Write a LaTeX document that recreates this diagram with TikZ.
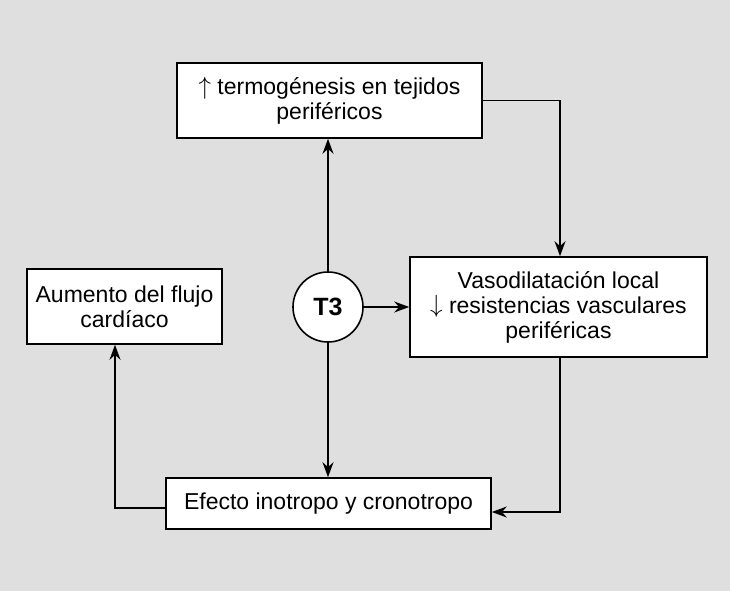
\documentclass[tikz,border=0pt]{standalone}
\usepackage{fontspec}
\setmainfont{Liberation Sans}
\usetikzlibrary{arrows.meta}
\definecolor{bggray}{RGB}{223,223,223}
\newcommand{\upar}{\raisebox{0.5pt}{$\uparrow$}}
\newcommand{\dnar}{\raisebox{0.5pt}{$\downarrow$}}
\begin{document}
\begin{tikzpicture}[x=1pt,y=-1pt,
  box/.style={draw=black, line width=1.6pt, fill=white, inner sep=0pt, align=center,
    font=\fontsize{23}{25}\selectfont},
  conn/.style={line width=1.4pt, -{Stealth[length=15pt,width=11pt]}}]
\fill[bggray] (0,0) rectangle (730,591);
\useasboundingbox (0,0) rectangle (730,591);
\node[box, minimum width=305pt, minimum height=75pt] (top) at (329.5,100.5)
  {\upar\ termogénesis en tejidos\\periféricos};
\node[box, minimum width=297pt, minimum height=100pt] (vaso) at (558.5,307)
  {Vasodilatación local\\\dnar\ resistencias vasculares\\periféricas};
\node[box, minimum width=195pt, minimum height=75pt] (flujo) at (124.5,306.5)
  {Aumento del flujo\\cardíaco};
\node[box, minimum width=325pt, minimum height=51pt] (efecto) at (328.5,503.5)
  {Efecto inotropo y cronotropo};
\node[circle, draw=black, line width=1.6pt, fill=white, minimum size=70pt, inner sep=0pt,
  font=\fontsize{25}{26}\selectfont\bfseries] (t3) at (328,307) {T3};
\coordinate (c1) at (560,100.5);
\coordinate (c2) at (560,512);
\coordinate (c3) at (115,508);
\draw[conn] (t3.north) -- (t3.north |- top.south);
\draw[conn] (t3.south) -- (t3.south |- efecto.north);
\draw[conn] (t3.east) -- (vaso.west);
\draw[conn] (top.east) -- (c1) -- (c1 |- vaso.north);
\draw[conn] (c1 |- vaso.south) -- (c2) -- (c2 -| efecto.east);
\draw[conn] (c3 -| efecto.west) -- (c3) -- (c3 |- flujo.south);
\end{tikzpicture}
\end{document}
